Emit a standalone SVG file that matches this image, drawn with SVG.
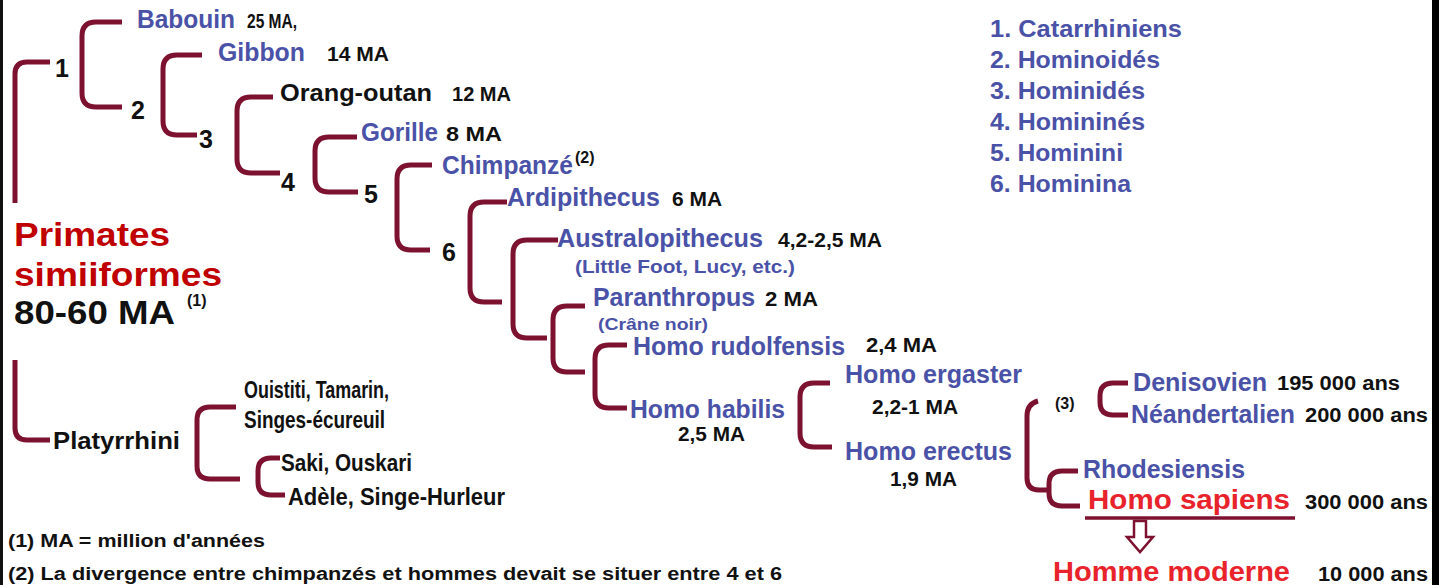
<svg xmlns="http://www.w3.org/2000/svg" width="1445" height="585" viewBox="0 0 1445 585">
<style>
text{font-family:"Liberation Sans",Arial,sans-serif;font-weight:bold}
.b{fill:#4a52a8;font-size:25px}
.k{fill:#111;font-size:20px}
.kl{fill:#111;font-size:24px}
.n{fill:#111;font-size:25px}
.r{fill:#c00000;font-size:34px}
.rs{fill:#e8232b;font-size:28px}
.lg{fill:#4a52a8;font-size:24px}
.br{fill:none;stroke:#7d1230;stroke-width:5;stroke-linecap:butt;stroke-linejoin:round}
.sup{fill:#111;font-size:16px}
</style>
<rect width="1445" height="585" fill="#fff"/>
<rect x="0" y="0" width="3" height="585" fill="#111"/>
<rect x="1432" y="0" width="7" height="585" fill="#000"/>

<g id="connectors">
<path class="br" d="M50,62 H27 Q15,62 15,74 V203"/>
<path class="br" d="M15,360 V428 Q15,440 27,440 H50"/>
<path class="br" d="M122,22 H96 Q82,22 82,36 V93 Q82,107 96,107 H122"/>
<path class="br" d="M202,55 H177 Q163,55 163,69 V121 Q163,135 177,135 H197"/>
<path class="br" d="M273,97 H251 Q237,97 237,111 V159 Q237,173 251,173 H280"/>
<path class="br" d="M357,137 H329 Q315,137 315,151 V178 Q315,192 329,192 H358"/>
<path class="br" d="M432,165 H411 Q397,165 397,179 V236 Q397,250 411,250 H430"/>
<path class="br" d="M507,202 H484 Q470,202 470,216 V288 Q470,302 484,302 H502"/>
<path class="br" d="M558,240 H527 Q513,240 513,254 V324 Q513,338 527,338 H547"/>
<path class="br" d="M585,306 H567 Q553,306 553,320 V358 Q553,372 567,372 H585"/>
<path class="br" d="M627,345 H609 Q595,345 595,359 V394 Q595,408 609,408 H627"/>
<path class="br" d="M830,383 H814 Q800,383 800,397 V433 Q800,447 814,447 H832"/>
<path class="br" d="M1038,401 Q1027,404 1027,416 V478 Q1027,490 1039,490 H1048"/>
<path class="br" d="M1078,471 H1062 Q1049,471 1049,484 V493 Q1049,506 1062,506 H1080"/>
<path class="br" d="M1128,383 H1113 Q1100,383 1100,396 V402 Q1100,415 1113,415 H1128"/>
<path class="br" d="M236,407 H210 Q197,407 197,420 V466 Q197,479 210,479 H240"/>
<path class="br" d="M280,458 H271 Q258,458 258,471 V482 Q258,495 271,495 H285"/>
<line x1="1085" y1="518" x2="1295" y2="518" stroke="#7d1230" stroke-width="3.5"/>
<path d="M1134,521 H1146 V537 H1153 L1140,552 L1127,537 H1134 Z" fill="#fff" stroke="#7d1230" stroke-width="2.5" stroke-linejoin="miter"/>
</g>

<g id="node-labels">
<text class="n" x="55" y="77">1</text>
<text class="n" x="131" y="119">2</text>
<text class="n" x="199" y="148">3</text>
<text class="n" x="281" y="191">4</text>
<text class="n" x="364" y="203">5</text>
<text class="n" x="442" y="261" font-size="22">6</text>
</g>

<g id="primates">
<text class="r" x="14" y="246" textLength="156" lengthAdjust="spacingAndGlyphs">Primates</text>
<text class="r" x="14" y="286" textLength="208" lengthAdjust="spacingAndGlyphs">simiiformes</text>
<text x="14" y="324" fill="#111" font-size="34" textLength="161" lengthAdjust="spacingAndGlyphs">80-60 MA</text>
<text class="sup" x="187" y="306" font-size="19">(1)</text>
</g>

<g id="babouin"><text class="b" x="137" y="28" textLength="98" lengthAdjust="spacingAndGlyphs">Babouin</text><text class="k" x="247" y="28" textLength="50" lengthAdjust="spacingAndGlyphs">25 MA,</text></g>
<g id="gibbon"><text class="b" x="218" y="61" textLength="87" lengthAdjust="spacingAndGlyphs">Gibbon</text><text class="k" x="327" y="61" textLength="62" lengthAdjust="spacingAndGlyphs">14 MA</text></g>
<g id="orang"><text class="kl" x="280" y="101" font-size="25" textLength="152" lengthAdjust="spacingAndGlyphs">Orang-outan</text><text class="k" x="452" y="101" textLength="59" lengthAdjust="spacingAndGlyphs">12 MA</text></g>
<g id="gorille"><text class="b" x="361" y="141" textLength="77" lengthAdjust="spacingAndGlyphs">Gorille</text><text class="k" x="446" y="141" textLength="56" lengthAdjust="spacingAndGlyphs">8 MA</text></g>
<g id="chimpanze"><text class="b" x="442" y="174" textLength="131" lengthAdjust="spacingAndGlyphs">Chimpanzé</text><text class="sup" x="575" y="163">(2)</text></g>
<g id="ardipithecus"><text class="b" x="507" y="206" textLength="153" lengthAdjust="spacingAndGlyphs">Ardipithecus</text><text class="k" x="672" y="206" textLength="50" lengthAdjust="spacingAndGlyphs">6 MA</text></g>
<g id="australopithecus"><text class="b" x="557" y="247" textLength="206" lengthAdjust="spacingAndGlyphs">Australopithecus</text><text class="k" x="778" y="247" textLength="104" lengthAdjust="spacingAndGlyphs">4,2-2,5 MA</text>
<text x="575" y="273" fill="#4a52a8" font-size="18" textLength="220" lengthAdjust="spacingAndGlyphs">(Little Foot, Lucy, etc.)</text></g>
<g id="paranthropus"><text class="b" x="593" y="306" textLength="162" lengthAdjust="spacingAndGlyphs">Paranthropus</text><text class="k" x="765" y="306" textLength="53" lengthAdjust="spacingAndGlyphs">2 MA</text>
<text x="598" y="330" fill="#4a52a8" font-size="17" textLength="110" lengthAdjust="spacingAndGlyphs">(Crâne noir)</text></g>
<g id="rudolfensis"><text class="b" x="633" y="355" textLength="212" lengthAdjust="spacingAndGlyphs">Homo rudolfensis</text><text class="k" x="866" y="352" textLength="71" lengthAdjust="spacingAndGlyphs">2,4 MA</text></g>
<g id="habilis"><text class="b" x="630" y="418" textLength="155" lengthAdjust="spacingAndGlyphs">Homo habilis</text><text class="k" x="678" y="441" textLength="67" lengthAdjust="spacingAndGlyphs">2,5 MA</text></g>
<g id="ergaster"><text class="b" x="845" y="383" textLength="177" lengthAdjust="spacingAndGlyphs">Homo ergaster</text><text class="k" x="872" y="414" textLength="86" lengthAdjust="spacingAndGlyphs">2,2-1 MA</text></g>
<g id="erectus"><text class="b" x="845" y="460" textLength="167" lengthAdjust="spacingAndGlyphs">Homo erectus</text><text class="k" x="890" y="486" textLength="67" lengthAdjust="spacingAndGlyphs">1,9 MA</text></g>
<g id="note3"><text x="1055" y="409" fill="#111" font-size="16" font-weight="normal">(3)</text></g>
<g id="denisovien"><text class="b" x="1133" y="391" textLength="134" lengthAdjust="spacingAndGlyphs">Denisovien</text><text class="k" x="1277" y="390" textLength="123" lengthAdjust="spacingAndGlyphs">195 000 ans</text></g>
<g id="neandertalien"><text class="b" x="1131" y="423" textLength="164" lengthAdjust="spacingAndGlyphs">Néandertalien</text><text class="k" x="1305" y="422" textLength="123" lengthAdjust="spacingAndGlyphs">200 000 ans</text></g>
<g id="rhodesiensis"><text class="b" x="1083" y="478" textLength="162" lengthAdjust="spacingAndGlyphs">Rhodesiensis</text></g>
<g id="sapiens"><text class="rs" x="1088" y="509" textLength="202" lengthAdjust="spacingAndGlyphs">Homo sapiens</text><text class="k" x="1305" y="509" textLength="123" lengthAdjust="spacingAndGlyphs">300 000 ans</text></g>
<g id="moderne"><text class="rs" x="1053" y="581" textLength="237" lengthAdjust="spacingAndGlyphs">Homme moderne</text><text class="k" x="1318" y="581" textLength="110" lengthAdjust="spacingAndGlyphs">10 000 ans</text></g>

<g id="platyrrhini"><text class="kl" x="53" y="449" textLength="127" lengthAdjust="spacingAndGlyphs">Platyrrhini</text></g>
<g id="ouistiti"><text class="kl" x="244" y="398" textLength="145" lengthAdjust="spacingAndGlyphs">Ouistiti, Tamarin,</text><text class="kl" x="244" y="428" textLength="141" lengthAdjust="spacingAndGlyphs">Singes-écureuil</text></g>
<g id="saki"><text class="kl" x="281" y="471" textLength="131" lengthAdjust="spacingAndGlyphs">Saki, Ouskari</text><text class="kl" x="288" y="505" textLength="217" lengthAdjust="spacingAndGlyphs">Adèle, Singe-Hurleur</text></g>

<g id="legend">
<text class="lg" x="990" y="37" textLength="192" lengthAdjust="spacingAndGlyphs">1. Catarrhiniens</text>
<text class="lg" x="990" y="68" textLength="170" lengthAdjust="spacingAndGlyphs">2. Hominoidés</text>
<text class="lg" x="990" y="99" textLength="155" lengthAdjust="spacingAndGlyphs">3. Hominidés</text>
<text class="lg" x="990" y="130" textLength="155" lengthAdjust="spacingAndGlyphs">4. Homininés</text>
<text class="lg" x="990" y="161" textLength="133" lengthAdjust="spacingAndGlyphs">5. Hominini</text>
<text class="lg" x="990" y="192" textLength="141" lengthAdjust="spacingAndGlyphs">6. Hominina</text>
</g>

<g id="footnotes">
<text x="8" y="547" fill="#111" font-size="18" textLength="257" lengthAdjust="spacingAndGlyphs">(1)  MA = million d'années</text>
<text x="8" y="580" fill="#111" font-size="18" textLength="774" lengthAdjust="spacingAndGlyphs">(2) La divergence entre chimpanzés et hommes devait se situer entre 4 et 6</text>
</g>
</svg>
